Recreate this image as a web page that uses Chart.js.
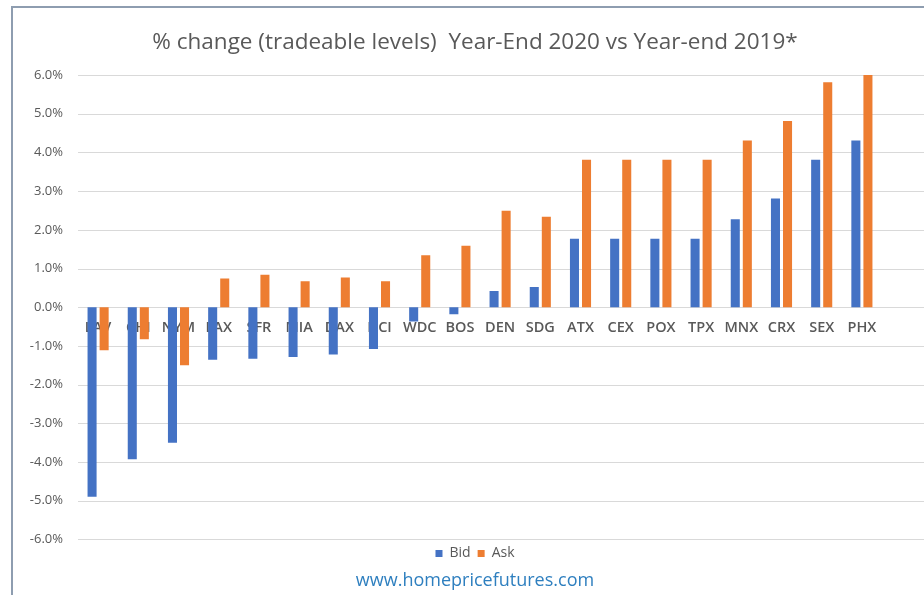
<!DOCTYPE html>
<html>
<head>
<meta charset="utf-8">
<script src="https://cdn.jsdelivr.net/npm/chart.js@4"></script>
<style>
  html, body { margin: 0; padding: 0; background: #fff; }
  #wrap { width: 924px; height: 595px; position: relative; }
</style>
</head>
<body>
<div id="wrap"><canvas id="chart"></canvas></div>
<script>
// markets, left to right
const markets = ['LAV', 'CHI', 'NYM', 'LAX', 'SFR', 'MIA', 'DAX', 'HCI', 'WDC', 'BOS',
                 'DEN', 'SDG', 'ATX', 'CEX', 'POX', 'TPX', 'MNX', 'CRX', 'SEX', 'PHX'];

// % change
const bid = [-4.90, -3.93, -3.50, -1.36, -1.33, -1.29, -1.22, -1.08, -0.37, -0.18,
             0.42, 0.52, 1.77, 1.77, 1.77, 1.77, 2.27, 2.81, 3.81, 4.31];
const ask = [-1.11, -0.83, -1.50, 0.74, 0.84, 0.67, 0.77, 0.67, 1.34, 1.59,
             2.49, 2.34, 3.81, 3.81, 3.81, 3.81, 4.31, 4.81, 5.81, 6.00];

const yTicks = [6, 5, 4, 3, 2, 1, 0, -1, -2, -3, -4, -5, -6];

const gray = '#595959';
const font = "'Open Sans', sans-serif";

// outer frame, and gridlines that run on past the plot to the right edge
const framePlugin = {
  id: 'frame',
  beforeDraw(chart) {
    const ctx = chart.ctx;
    ctx.save();
    ctx.strokeStyle = '#8e9db0';
    ctx.lineWidth = 2;
    ctx.beginPath();
    ctx.moveTo(12, chart.height);
    ctx.lineTo(12, 7);
    ctx.lineTo(chart.width, 7);
    ctx.stroke();
    ctx.restore();
  },
  beforeDatasetsDraw(chart) {
    const ctx = chart.ctx;
    const y = chart.scales.y;
    ctx.save();
    ctx.strokeStyle = '#d9d9d9';
    ctx.lineWidth = 1;
    y.ticks.forEach(t => {
      const py = Math.round(y.getPixelForValue(t.value)) + 0.5;
      ctx.beginPath();
      ctx.moveTo(chart.chartArea.left, py);
      ctx.lineTo(chart.width, py);
      ctx.stroke();
    });
    ctx.restore();
  }
};

new Chart(document.getElementById('chart'), {
  type: 'bar',
  data: {
    labels: markets,
    datasets: [
      { label: 'Bid', data: bid, backgroundColor: '#4472C4', categoryPercentage: 0.6, barPercentage: 0.75 },
      { label: 'Ask', data: ask, backgroundColor: '#ED7D31', categoryPercentage: 0.6, barPercentage: 0.75 }
    ]
  },
  options: {
    responsive: true,
    maintainAspectRatio: false,
    animation: false,
    layout: { padding: { left: 26, right: 0, top: 0, bottom: 0 } },
    plugins: {
      title: {
        display: true,
        text: '% change (tradeable levels)  Year-End 2020 vs Year-end 2019*',
        color: gray,
        font: { family: font, size: 22.5, weight: 'normal' },
        padding: { top: 29, bottom: 19 }
      },
      legend: {
        position: 'bottom',
        labels: {
          color: gray,
          font: { family: font, size: 14 },
          boxWidth: 7,
          boxHeight: 7,
          padding: 7
        }
      },
      subtitle: {
        display: true,
        position: 'bottom',
        text: 'www.homepricefutures.com',
        color: '#2e7fbf',
        font: { family: font, size: 18, weight: 'normal' },
        padding: { top: 0, bottom: 3 }
      },
      tooltip: { enabled: false }
    },
    scales: {
      x: {
        position: { y: 0 },
        grid: { display: false },
        border: { display: false },
        ticks: {
          color: gray,
          font: { family: font, size: 14.5, weight: '600' },
          padding: 4,
          autoSkip: false,
          maxRotation: 0
        }
      },
      y: {
        min: -6,
        max: 6,
        afterBuildTicks: (s) => { s.ticks = yTicks.map(v => ({ value: v })); },
        afterFit: (s) => { s.width = 52; },
        grid: { display: false, drawTicks: false },
        border: { display: false },
        ticks: {
          color: gray,
          font: { family: font, size: 13 },
          padding: 15,
          callback: (v) => v.toFixed(1) + '%'
        }
      },
      // empty right-hand strip: the plot stops short of the frame's right edge
      yRight: {
        position: 'right',
        afterFit: (s) => { s.width = 42; },
        grid: { display: false },
        border: { display: false },
        ticks: { display: false }
      }
    }
  },
  plugins: [framePlugin]
});
</script>
</body>
</html>
